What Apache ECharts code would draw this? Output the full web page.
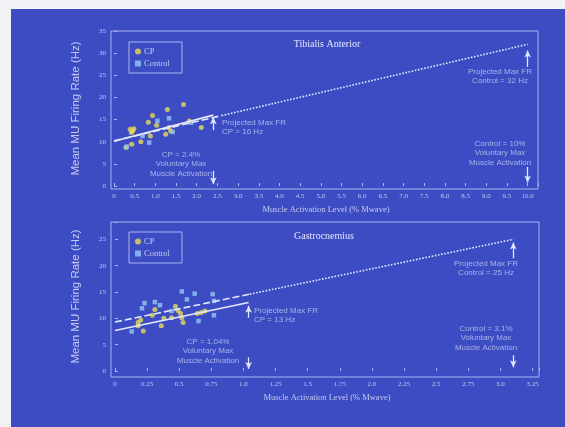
<!DOCTYPE html>
<html>
<head>
<meta charset="utf-8">
<script src="https://cdn.jsdelivr.net/npm/echarts@6/dist/echarts.min.js"></script>
<style>
  html, body { margin: 0; padding: 0; background: #f2f2f6; }
  #c { width: 565px; height: 427px; }
</style>
</head>
<body>
<div id="c"></div>
<script>
// ---- Tibialis anterior (upper panel) ----
const taCP = [[0.29, 8.7], [0.43, 9.4], [0.39, 12.8], [0.45, 12.4], [0.42, 12.1], [0.48, 12.9],
  [0.65, 10.0], [0.83, 14.4], [0.88, 11.3], [0.93, 15.9], [1.03, 13.7], [1.25, 11.7],
  [1.29, 17.3], [1.33, 13.2], [1.37, 12.4], [1.68, 18.4], [1.82, 14.7], [2.11, 13.2]];
const taControl = [[0.31, 8.9], [0.69, 11.3], [0.85, 9.8], [1.05, 14.7], [1.33, 15.3],
  [1.42, 12.2], [1.86, 14.3]];
const taCPFit = [[0, 10.1], [2.4, 16]];
const taControlFit = [[0, 10.2], [2.6, 15.9]];
const taControlProjection = [[2.6, 15.9], [10, 32]];
const taXTicks = ['0', '0.5', '1.0', '1.5', '2.0', '2.5', '3.0', '3.5', '4.0', '4.5', '5.0',
  '5.5', '6.0', '6.5', '7.0', '7.5', '8.0', '8.5', '9.0', '9.5', '10.0'];
const taYTicks = ['0', '5', '10', '15', '20', '25', '30', '35'];

// ---- Gastrocnemius (lower panel) ----
const gaCP = [[0.18, 9.2], [0.18, 8.6], [0.20, 9.7], [0.22, 7.6], [0.29, 10.6], [0.31, 11.7],
  [0.36, 8.6], [0.38, 10.0], [0.44, 10.1], [0.47, 12.3], [0.49, 11.5], [0.51, 10.9],
  [0.52, 10.1], [0.53, 9.2], [0.64, 10.9], [0.67, 11.1], [0.70, 11.4]];
const gaControl = [[0.13, 7.5], [0.21, 11.9], [0.23, 12.9], [0.31, 13.1], [0.35, 12.5],
  [0.44, 11.4], [0.52, 15.1], [0.56, 13.6], [0.62, 14.7], [0.65, 9.5], [0.76, 14.6],
  [0.77, 13.3], [0.77, 10.6]];
const gaCPFit = [[0, 7.7], [1.04, 13]];
const gaControlFit = [[0, 9.3], [1.05, 14.6]];
const gaControlProjection = [[1.05, 14.6], [3.1, 25]];
const gaXTicks = ['0', '0.25', '0.5', '0.75', '1.0', '1.25', '1.5', '1.75', '2.0', '2.25',
  '2.5', '2.75', '3.0', '3.25'];
const gaYTicks = ['0', '5', '10', '15', '20', '25'];

// Projected end points and activation limits quoted in the annotations
const taCPMax = { x: 2.4, y: 16 };
const taControlMax = { x: 10, y: 32 };
const gaCPMax = { x: 1.04, y: 13 };
const gaControlMax = { x: 3.1, y: 25 };

const BG = '#3d4cc2';
const FRAME = '#aab3ee';
const TEXT = '#c3c9f3';
const NOTE = '#a9b2ea';
const LINE = '#e4e8ff';
const YELLOW = '#e6dc58';
const CYAN = '#92c8f2';
const SERIF = '"Liberation Serif", "DejaVu Serif", serif';
const SANS = '"Liberation Sans", Arial, sans-serif';

function tickFormatter(ticks, step) {
  return function (v) {
    const i = Math.round(v / step);
    return Math.abs(i * step - v) < 1e-6 && ticks[i] !== undefined ? ticks[i] : '';
  };
}

// panel geometry
const panels = [
  { left: 114, top: 31, width: 424, height: 155, xMax: 10.25, xStep: 0.5, yMax: 35,
    xOff: 3, yOff: 3, frame: [111, 31, 538, 189] },
  { left: 115, top: 222, width: 424, height: 149, xMax: 3.3, xStep: 0.25, yMax: 28.3,
    xOff: 6, yOff: 4, frame: [111, 222, 539, 377] }
];
const xTicks = [taXTicks, gaXTicks];
const yTicks = [taYTicks, gaYTicks];

const grid = panels.map(p => ({ left: p.left, top: p.top, width: p.width, height: p.height }));

const xAxis = panels.map((p, i) => ({
  type: 'value', gridIndex: i, min: 0, max: p.xMax, interval: p.xStep, offset: p.xOff,
  name: 'Muscle Activation Level (% Mwave)', nameLocation: 'middle', nameGap: 16,
  nameTextStyle: { color: TEXT, fontFamily: SERIF, fontSize: 8.5 },
  axisLine: { show: false },
  axisTick: { show: true, inside: true, length: 3, lineStyle: { color: FRAME } },
  axisLabel: { color: TEXT, fontFamily: SERIF, fontSize: 7, margin: 4,
    formatter: tickFormatter(xTicks[i], p.xStep) },
  splitLine: { show: false }
}));

const yAxis = panels.map((p, i) => ({
  type: 'value', gridIndex: i, min: 0, max: p.yMax, interval: 5, offset: p.yOff,
  name: 'Mean MU Firing Rate (Hz)', nameLocation: 'middle', nameGap: 29, nameRotate: 90,
  nameTextStyle: { color: TEXT, fontFamily: SANS, fontSize: 11.5 },
  axisLine: { show: false },
  axisTick: { show: true, inside: true, length: 3, lineStyle: { color: FRAME } },
  axisLabel: { color: TEXT, fontFamily: SERIF, fontSize: 7, margin: 5,
    formatter: tickFormatter(yTicks[i], 5) },
  splitLine: { show: false }
}));

function scatter(name, data, idx, color, symbol, size) {
  return { name, type: 'scatter', xAxisIndex: idx, yAxisIndex: idx, data, symbol,
    symbolSize: size, itemStyle: { color }, z: 3 };
}
function fitLine(name, data, idx, type, arrows) {
  const s = { name, type: 'line', xAxisIndex: idx, yAxisIndex: idx, data, symbol: 'none',
    lineStyle: { color: LINE, width: 1.6, type }, z: 4, silent: true };
  if (arrows) {
    s.markLine = { silent: true, symbol: ['none', 'arrow'], symbolSize: [5, 7],
      label: { show: false }, lineStyle: { color: LINE, width: 1.3, type: 'solid' },
      data: arrows.map(a => [{ coord: [a[0], a[1]] }, { coord: [a[0], a[2]] }]) };
  }
  return s;
}

const series = [
  scatter('CP', taCP, 0, YELLOW, 'circle', 5),
  scatter('Control', taControl, 0, CYAN, 'rect', 4.5),
  fitLine('CP fit', taCPFit, 0, 'solid', [
    [taCPMax.x, 12.6, 15.5], [taCPMax.x, 3.4, 0.4]]),
  fitLine('Control fit', taControlFit, 0, [7, 3], null),
  fitLine('Control projection', taControlProjection, 0, 'dotted', [
    [taControlMax.x, 26.9, 30.6], [taControlMax.x, 4.3, 0.8]]),
  scatter('CP', gaCP, 1, YELLOW, 'circle', 5),
  scatter('Control', gaControl, 1, CYAN, 'rect', 4.5),
  fitLine('CP fit', gaCPFit, 1, 'solid', [
    [gaCPMax.x, 10.1, 12.4], [gaCPMax.x, 2.6, 0.4]]),
  fitLine('Control fit', gaControlFit, 1, [7, 3], null),
  fitLine('Control projection', gaControlProjection, 1, 'dotted', [
    [gaControlMax.x, 21.4, 24.4], [gaControlMax.x, 3.0, 0.7]])
];

const legendItems = [{ name: 'CP', icon: 'circle' }, { name: 'Control', icon: 'rect' }];
const legend = [42, 232].map(top => ({
  data: legendItems, orient: 'vertical', left: 129, top,
  itemWidth: 6, itemHeight: 6, itemGap: 3,
  padding: [5, 12, 5, 6], borderColor: FRAME, borderWidth: 1,
  textStyle: { color: TEXT, fontFamily: SERIF, fontSize: 8.5, padding: [0, 0, 0, -2] },
  selectedMode: false
}));

function txt(x, y, lines, align, size, color, font) {
  return { type: 'text', x, y, silent: true,
    style: { text: lines.join('\n'), fill: color || NOTE, font: (size || 8) + 'px ' + (font || SANS),
      textAlign: align || 'center', textVerticalAlign: 'top', lineHeight: 9.5 } };
}

const graphic = [
  { type: 'rect', z: -10, shape: { x: 11, y: 9, width: 554, height: 418 }, style: { fill: BG }, silent: true },
  ...panels.map(p => ({ type: 'rect', z: 1, silent: true,
    shape: { x: p.frame[0], y: p.frame[1], width: p.frame[2] - p.frame[0], height: p.frame[3] - p.frame[1] },
    style: { fill: 'none', stroke: FRAME, lineWidth: 1 } })),
  txt(327, 40, ['Tibialis Anterior'], 'center', 10, '#e3e6ff', SERIF),
  txt(324, 232, ['Gastrocnemius'], 'center', 10, '#e3e6ff', SERIF),
  txt(222, 118, ['Projected Max FR', 'CP = ' + taCPMax.y + ' Hz'], 'left'),
  txt(181, 150, ['CP = ' + taCPMax.x + '%', 'Voluntary Max', 'Muscle Activation']),
  txt(500, 67, ['Projected Max FR', 'Control = ' + taControlMax.y + ' Hz']),
  txt(500, 139, ['Control = ' + taControlMax.x + '%', 'Voluntary Max', 'Muscle Activation']),
  txt(254, 306, ['Projected Max FR', 'CP = ' + gaCPMax.y + ' Hz'], 'left'),
  txt(208, 337, ['CP = ' + gaCPMax.x + '%', 'Voluntary Max', 'Muscle Activation']),
  txt(486, 259, ['Projected Max FR', 'Control = ' + gaControlMax.y + ' Hz']),
  txt(486, 324, ['Control = ' + gaControlMax.x + '%', 'Voluntary Max', 'Muscle Activation'])
];

const chart = echarts.init(document.getElementById('c'), null, { renderer: 'canvas' });
chart.setOption({
  backgroundColor: 'transparent',
  animation: false,
  grid, xAxis, yAxis, series, legend, graphic
});
</script>
</body>
</html>
